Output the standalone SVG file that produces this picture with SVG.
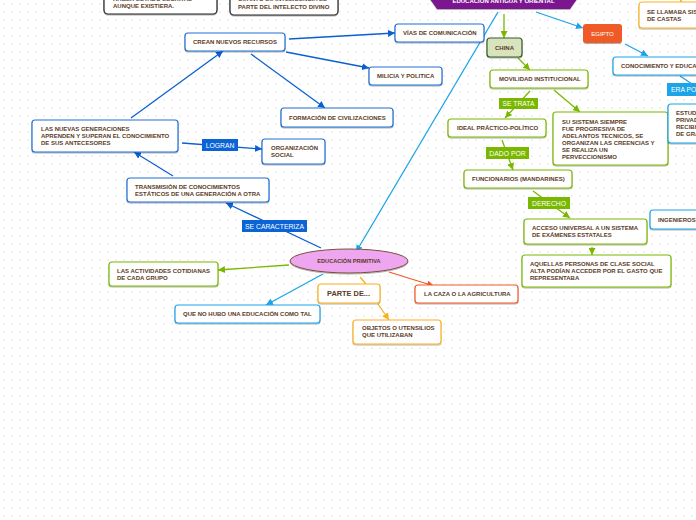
<svg xmlns="http://www.w3.org/2000/svg" width="696" height="520" viewBox="0 0 696 520">
<defs>
<style>
.t{font-family:"Liberation Sans",Arial,sans-serif;font-weight:bold;font-size:6px;fill:#5b3a1e}
.tw{font-family:"Liberation Sans",Arial,sans-serif;font-weight:bold;font-size:6px;fill:#fff}
.lb{font-family:"Liberation Sans",Arial,sans-serif;font-size:6.8px;fill:#fff}
.box{fill:#fff;stroke-width:1.2;filter:url(#sh)}
.b{stroke:#1f6fd6}.c{stroke:#1ba4e8}.g{stroke:#7ab800}.o{stroke:#fbb020}.r{stroke:#f05a28}.k{stroke:#222}
.e{fill:none;stroke-width:1.3}
.eb{stroke:#0a5fd1}.ec{stroke:#1ba4e8}.eg{stroke:#7ab800}.eo{stroke:#fbb020}.er{stroke:#f05a28}
</style>
<filter id="sh" x="-10%" y="-20%" width="120%" height="150%"><feDropShadow dx="0" dy="1" stdDeviation="0.7" flood-color="#000" flood-opacity="0.3"/></filter>
<pattern id="grid" width="8" height="8" patternUnits="userSpaceOnUse"><path d="M3,4h2M4,3v2" stroke="#e4e4e4" stroke-width="0.6"/></pattern>
<marker id="ab" viewBox="0 0 8 8" refX="8" refY="4" markerWidth="7" markerHeight="7" markerUnits="userSpaceOnUse" orient="auto"><path d="M0,0L8,4L0,8z" fill="#0a5fd1"/></marker>
<marker id="ac" viewBox="0 0 8 8" refX="8" refY="4" markerWidth="7" markerHeight="7" markerUnits="userSpaceOnUse" orient="auto"><path d="M0,0L8,4L0,8z" fill="#1ba4e8"/></marker>
<marker id="ag" viewBox="0 0 8 8" refX="8" refY="4" markerWidth="7" markerHeight="7" markerUnits="userSpaceOnUse" orient="auto"><path d="M0,0L8,4L0,8z" fill="#7ab800"/></marker>
<marker id="ao" viewBox="0 0 8 8" refX="8" refY="4" markerWidth="7" markerHeight="7" markerUnits="userSpaceOnUse" orient="auto"><path d="M0,0L8,4L0,8z" fill="#fbb020"/></marker>
<marker id="ar" viewBox="0 0 8 8" refX="8" refY="4" markerWidth="7" markerHeight="7" markerUnits="userSpaceOnUse" orient="auto"><path d="M0,0L8,4L0,8z" fill="#f05a28"/></marker>
</defs>
<rect width="696" height="520" fill="#fff"/>
<rect width="696" height="520" fill="url(#grid)"/>

<g id="connectors">
<path class="e eb" d="M131,118L223,51" marker-end="url(#ab)"/>
<path class="e eb" d="M289,39L395,33" marker-end="url(#ab)"/>
<path class="e eb" d="M286,52L369,68" marker-end="url(#ab)"/>
<path class="e eb" d="M251,54L325,108" marker-end="url(#ab)"/>
<path class="e eb" d="M182,143L262,149" marker-end="url(#ab)"/>
<path class="e eb" d="M173,176L134,152" marker-end="url(#ab)"/>
<path class="e eb" d="M321,248L226,203" marker-end="url(#ab)"/>
<path class="e ec" d="M498,12L356,252" marker-end="url(#ac)"/>
<path class="e ec" d="M323,274L266,305" marker-end="url(#ac)"/>
<path class="e ec" d="M536,12L583,28" marker-end="url(#ac)"/>
<path class="e ec" d="M625,44L648,56" marker-end="url(#ac)"/>
<path class="e ec" d="M680,76L692,84"/>
<path class="e eg" d="M504,14L504,38" marker-end="url(#ag)"/>
<path class="e eg" d="M518,58L530,70" marker-end="url(#ag)"/>
<path class="e eg" d="M530,91L505,118" marker-end="url(#ag)"/>
<path class="e eg" d="M554,90L580,112" marker-end="url(#ag)"/>
<path class="e eg" d="M502,140L513,170" marker-end="url(#ag)"/>
<path class="e eg" d="M533,191L570,218" marker-end="url(#ag)"/>
<path class="e eg" d="M592,247L592,255" marker-end="url(#ag)"/>
<path class="e eg" d="M289,265L218,270" marker-end="url(#ag)"/>
<path class="e eo" d="M360,277L366,284"/>
<path class="e eo" d="M378,304L389,320" marker-end="url(#ao)"/>
<path class="e eo" d="M681,-6L681,2" marker-end="url(#ao)"/>
<path class="e er" d="M389,272L434,286" marker-end="url(#ar)"/>
</g>

<g id="top1"><rect class="box k" x="104" y="-10" width="113" height="24" rx="4"/><text class="t" x="113" y="0.8">HABER ESTADO ESCRITAS</text><text class="t" x="113" y="7.8">AUNQUE EXISTIERA.</text></g>
<g id="top2"><rect class="box k" x="230" y="-10" width="108" height="25" rx="4"/><text class="t" x="238" y="1.3">CUANTO SU INTELIGENCIA ES</text><text class="t" x="238" y="8.5">PARTE DEL INTELECTO DIVINO</text></g>
<g id="titulo"><polygon points="430,-1 437,-12 570,-12 577,-1 570,9 437,9" fill="#7b1290" filter="url(#sh)"/><text class="tw" x="503.5" y="2.5" text-anchor="middle">EDUCACIÓN ANTIGUA Y ORIENTAL</text></g>

<g id="crean"><rect class="box b" x="185" y="33" width="100" height="18" rx="3"/><text class="t" x="193" y="44.3">CREAN NUEVOS RECURSOS</text></g>
<g id="vias"><rect class="box b" x="395" y="24" width="89" height="18" rx="3"/><text class="t" x="403" y="35.3">VÍAS DE COMUNICACIÓN</text></g>
<g id="milicia"><rect class="box b" x="369" y="67" width="73" height="18" rx="3"/><text class="t" x="377" y="78.3">MILICIA Y POLITICA</text></g>
<g id="formacion"><rect class="box b" x="281" y="108" width="112" height="19" rx="3"/><text class="t" x="289" y="119.6">FORMACIÓN DE CIVILIZACIONES</text></g>
<g id="nuevas"><rect class="box b" x="32" y="120" width="146" height="32" rx="3"/><text class="t" x="41" y="131">LAS NUEVAS GENERACIONES</text><text class="t" x="41" y="138">APRENDEN Y SUPERAN EL CONOCIMIENTO</text><text class="t" x="41" y="145">DE SUS ANTECESORES</text></g>
<g id="logran"><rect x="202" y="139" width="36" height="12" fill="#0a64d6"/><text class="lb" x="220" y="147.5" text-anchor="middle">LOGRAN</text></g>
<g id="organizacion"><rect class="box b" x="262" y="139" width="63" height="25" rx="3"/><text class="t" x="271" y="150">ORGANIZACIÓN</text><text class="t" x="271" y="157">SOCIAL</text></g>
<g id="transmision"><rect class="box b" x="127" y="178" width="142" height="24" rx="3"/><text class="t" x="135" y="189">TRANSMISIÓN DE CONOCIMIENTOS</text><text class="t" x="135" y="196">ESTÁTICOS DE UNA GENERACIÓN A OTRA</text></g>
<g id="caracteriza"><rect x="242" y="220" width="65" height="12" fill="#0a64d6"/><text class="lb" x="274.5" y="228.5" text-anchor="middle">SE CARACTERIZA</text></g>
<g id="primitiva"><ellipse cx="349" cy="261" rx="59" ry="12" fill="#eea6f0" stroke="#7a4f3a" stroke-width="1" filter="url(#sh)"/><text class="t" x="349" y="263" text-anchor="middle" style="font-size:5.6px">EDUCACIÓN PRIMITIVA</text></g>
<g id="actividades"><rect class="box g" x="109" y="262" width="109" height="24" rx="3"/><text class="t" x="117" y="272.5">LAS ACTIVIDADES COTIDIANAS</text><text class="t" x="117" y="279.5">DE CADA GRUPO</text></g>
<g id="nohubo"><rect class="box c" x="175" y="305" width="145" height="18" rx="3"/><text class="t" x="183" y="316">QUE NO HUBO UNA EDUCACIÓN COMO TAL</text></g>
<g id="parte"><rect class="box o" x="318" y="284" width="62" height="19" rx="3"/><text class="t" x="327" y="296" style="font-size:7.4px">PARTE DE...</text></g>
<g id="objetos"><rect class="box o" x="353" y="320" width="88" height="24" rx="3"/><text class="t" x="362" y="330">OBJETOS O UTENSILIOS</text><text class="t" x="362" y="337">QUE UTILIZABAN</text></g>
<g id="caza"><rect class="box r" x="415" y="285" width="103" height="18" rx="3"/><text class="t" x="424" y="296">LA CAZA O LA AGRICULTURA</text></g>

<g id="china"><rect x="487" y="38" width="35" height="19" rx="3" fill="#d7e4bd" stroke="#3a5a2a" stroke-width="1.2" filter="url(#sh)"/><text class="t" x="504.5" y="49.5" text-anchor="middle">CHINA</text></g>
<g id="movilidad"><rect class="box g" x="490" y="70" width="98" height="18" rx="3"/><text class="t" x="499" y="81">MOVILIDAD INSTITUCIONAL</text></g>
<g id="setrata"><rect x="499" y="98" width="39" height="11" fill="#7ab800"/><text class="lb" x="518.5" y="106" text-anchor="middle">SE TRATA</text></g>
<g id="ideal"><rect class="box g" x="448" y="119" width="98" height="18" rx="3"/><text class="t" x="457" y="130">IDEAL PRÁCTICO-POLÍTICO</text></g>
<g id="sistema"><rect class="box g" x="553" y="112" width="115" height="53" rx="3"/><text class="t" x="562" y="124">SU SISTEMA SIEMPRE</text><text class="t" x="562" y="131">FUE PROGRESIVA DE</text><text class="t" x="562" y="138">ADELANTOS TECNICOS, SE</text><text class="t" x="562" y="145">ORGANIZAN LAS CREENCIAS Y</text><text class="t" x="562" y="152">SE REALIZA UN</text><text class="t" x="562" y="159">PERVECCIONISMO</text></g>
<g id="dadopor"><rect x="486" y="147" width="43" height="12" fill="#7ab800"/><text class="lb" x="507.5" y="155.5" text-anchor="middle">DADO POR</text></g>
<g id="funcionarios"><rect class="box g" x="464" y="170" width="108" height="18" rx="3"/><text class="t" x="472" y="181">FUNCIONARIOS (MANDARINES)</text></g>
<g id="derecho"><rect x="528" y="197" width="42" height="12" fill="#7ab800"/><text class="lb" x="549" y="205.5" text-anchor="middle">DERECHO</text></g>
<g id="acceso"><rect class="box g" x="524" y="219" width="123" height="25" rx="3"/><text class="t" x="532" y="229.5">ACCESO UNIVERSAL A UN SISTEMA</text><text class="t" x="532" y="236.5">DE EXÁMENES ESTATALES</text></g>
<g id="aquellas"><rect class="box g" x="522" y="255" width="149" height="32" rx="3"/><text class="t" x="530" y="265.5">AQUELLAS PERSONAS DE CLASE SOCIAL</text><text class="t" x="530" y="272.5">ALTA PODÍAN ACCEDER POR EL GASTO QUE</text><text class="t" x="530" y="279.5">REPRESENTABA</text></g>

<g id="egipto"><rect x="583" y="24" width="39" height="19" rx="3" fill="#f05a28" filter="url(#sh)"/><text class="tw" x="602.5" y="35.5" text-anchor="middle" style="font-weight:normal">EGIPTO</text></g>
<g id="castas"><rect class="box o" x="639" y="2" width="70" height="26" rx="3"/><text class="t" x="647" y="13.5">SE LLAMABA SISTEMA</text><text class="t" x="647" y="20.5">DE CASTAS</text></g>
<g id="conocimiento"><rect class="box c" x="613" y="57" width="100" height="18" rx="3"/><text class="t" x="621" y="68">CONOCIMIENTO Y EDUCACIÓN</text></g>
<g id="eraposible"><rect x="667" y="83" width="45" height="13" fill="#1ba4e8"/><text class="lb" x="671" y="92">ERA POSIBLE</text></g>
<g id="estudios"><rect class="box c" x="668" y="104" width="50" height="39" rx="3"/><text class="t" x="676" y="115">ESTUDIOS</text><text class="t" x="676" y="122">PRIVADOS</text><text class="t" x="676" y="129">RECIBIDOS</text><text class="t" x="676" y="136">DE GRANDES</text></g>
<g id="ingenieros"><rect class="box c" x="650" y="210" width="60" height="19" rx="3"/><text class="t" x="658" y="221.5">INGENIEROS</text></g>
</svg>
